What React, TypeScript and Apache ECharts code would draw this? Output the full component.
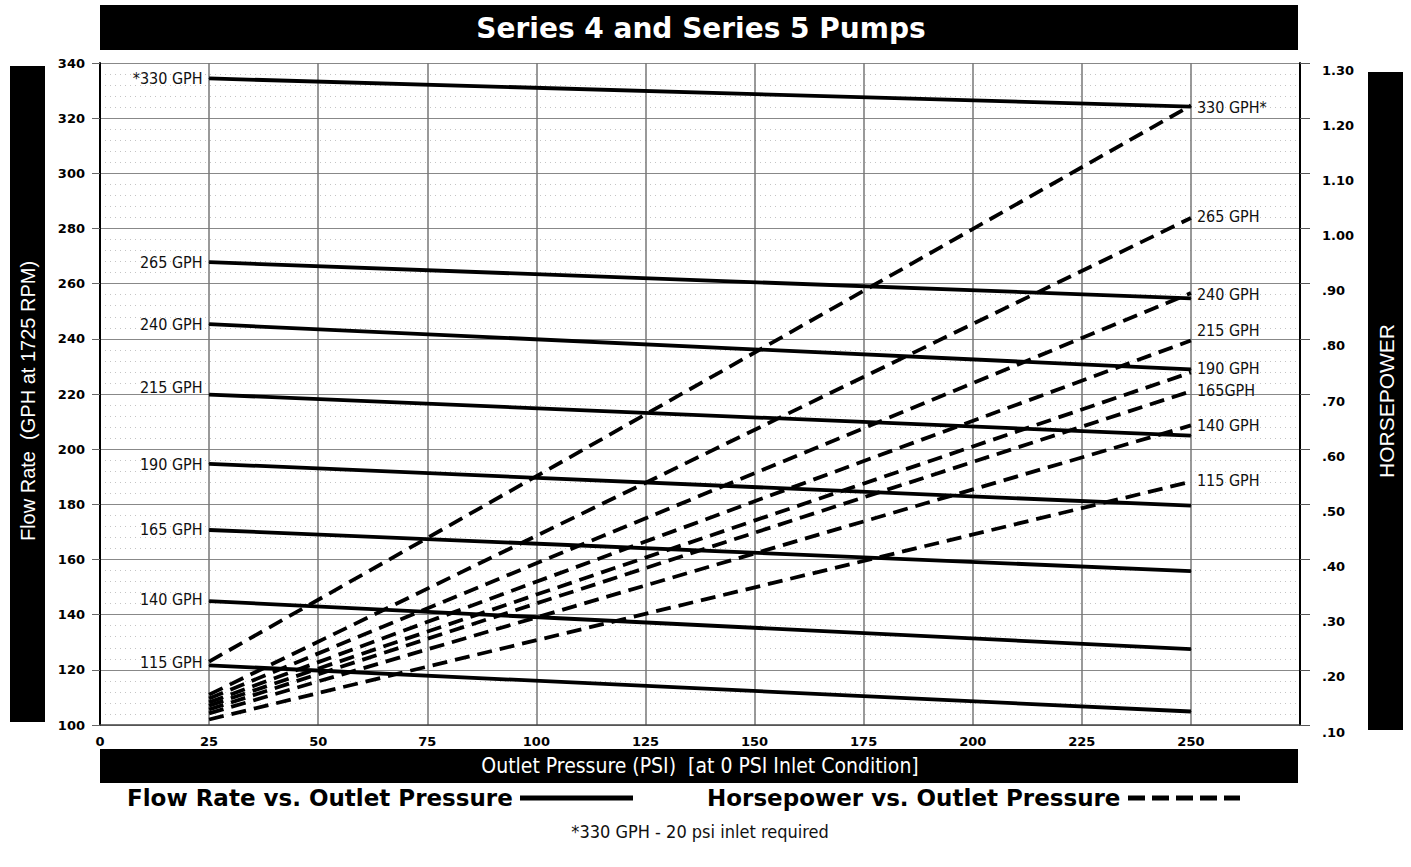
import React, { useEffect, useRef } from "react";
import * as echarts from "echarts";

// Outlet pressure (PSI) at which each curve starts and ends
const pressureStart = 25;
const pressureEnd = 250;

// Flow rate (GPH at 1725 RPM) vs outlet pressure – solid lines
const flowNames = ["*330 GPH", "265 GPH", "240 GPH", "215 GPH", "190 GPH", "165 GPH", "140 GPH", "115 GPH"];
const flowAt25 = [334.4, 267.8, 245.3, 219.8, 194.7, 170.7, 144.9, 121.6];
const flowAt250 = [324.2, 254.7, 228.9, 204.9, 179.5, 155.8, 127.5, 104.9];
const flowLabelShift = [0, 0, 0, -7, 1, 0, -2, -3];

// Horsepower vs outlet pressure – dashed lines
const hpNames = ["330 GPH*", "265 GPH", "240 GPH", "215 GPH", "190 GPH", "165GPH", "140 GPH", "115 GPH"];
const hpAt25 = [0.215, 0.155, 0.148, 0.141, 0.135, 0.128, 0.121, 0.11];
const hpAt250 = [1.223, 1.019, 0.883, 0.797, 0.739, 0.705, 0.643, 0.541];
const hpLabelShift = [2, -2, 1, -10, -4, -1, 0, -1];

// Axis ticks
const pressureTicks = { min: 0, max: 275, interval: 25 };
const flowTicks = { min: 100, max: 340, interval: 20 };
const hpTicks = { min: 0.1, max: 1.3, interval: 0.1 };

const NARROW = "'Liberation Sans Narrow', 'DejaVu Sans Condensed', 'Liberation Sans', sans-serif";
const BOLD = "'DejaVu Sans', 'Verdana', sans-serif";
const SANS = "'Liberation Sans', Arial, sans-serif";

export default function App() {
  const ref = useRef<HTMLDivElement>(null);
  useEffect(() => {
    if (!ref.current) return;
    const chart = echarts.init(ref.current, null, { renderer: "svg" });

    const flowSeries = flowNames.map((name, i) => ({
      name: "flow " + name,
      type: "line",
      xAxisIndex: 0,
      yAxisIndex: 0,
      showSymbol: true,
      symbol: "circle",
      symbolSize: 1,
      itemStyle: { color: "#000" },
      lineStyle: { color: "#000", width: 3.8 },
      silent: true,
      z: 5,
      data: [
        {
          value: [pressureStart, flowAt25[i]],
          label: {
            show: true,
            position: "left",
            distance: 6,
            formatter: name,
            offset: [0, flowLabelShift[i]],
            color: "#111",
            fontFamily: NARROW,
            fontSize: 16,
          },
        },
        { value: [pressureEnd, flowAt250[i]] },
      ],
    }));

    const hpSeries = hpNames.map((name, i) => ({
      name: "hp " + name,
      type: "line",
      xAxisIndex: 0,
      yAxisIndex: 1,
      symbol: "none",
      lineStyle: { color: "#000", width: 3.8, type: [15, 8] },
      silent: true,
      z: 5,
      endLabel: {
        show: true,
        formatter: name,
        distance: 6,
        offset: [0, hpLabelShift[i]],
        color: "#111",
        fontFamily: NARROW,
        fontSize: 16,
      },
      data: [
        [pressureStart, hpAt25[i]],
        [pressureEnd, hpAt250[i]],
      ],
    }));

    const option = {
      animation: false,
      backgroundColor: "#fff",
      grid: { left: 100, right: 111, top: 63, bottom: 142, containLabel: false },
      xAxis: {
        type: "value",
        min: pressureTicks.min,
        max: pressureTicks.max,
        interval: pressureTicks.interval,
        axisLine: { show: true, lineStyle: { color: "#444", width: 1.5 } },
        axisTick: { show: false },
        axisLabel: {
          showMaxLabel: false,
          margin: 10,
          color: "#000",
          fontFamily: BOLD,
          fontWeight: "bold",
          fontSize: 13,
        },
        splitLine: { show: true, lineStyle: { color: "#777", width: 1.5 } },
      },
      yAxis: [
        {
          type: "value",
          position: "left",
          min: flowTicks.min,
          max: flowTicks.max,
          interval: flowTicks.interval,
          axisLine: { show: true, lineStyle: { color: "#000", width: 2 } },
          axisTick: { show: true, inside: false, length: 8, lineStyle: { color: "#666" } },
          axisLabel: {
            margin: 15,
            color: "#000",
            fontFamily: BOLD,
            fontWeight: "bold",
            fontSize: 13,
          },
          splitLine: { show: true, lineStyle: { color: "#888", width: 1 } },
          minorTick: { show: false, splitNumber: 5 },
          minorSplitLine: { show: true, lineStyle: { color: "#c4c4c4", type: [1, 4], width: 1 } },
        },
        {
          type: "value",
          position: "right",
          min: hpTicks.min,
          max: hpTicks.max,
          interval: hpTicks.interval,
          axisLine: { show: true, lineStyle: { color: "#000", width: 2 } },
          axisTick: { show: true, inside: false, length: 10, lineStyle: { color: "#555" } },
          axisLabel: {
            margin: 22,
            verticalAlign: "top",
            lineHeight: 14,
            color: "#000",
            fontFamily: BOLD,
            fontWeight: "bold",
            fontSize: 13,
            formatter: (v: number) => {
              const s = v.toFixed(2);
              return v >= 1 ? s : s.slice(1);
            },
          },
          splitLine: { show: false },
        },
      ],
      graphic: [
        // title bar
        { type: "rect", left: 100, top: 5, shape: { width: 1198, height: 45 }, style: { fill: "#000" } },
        {
          type: "text",
          x: 701,
          y: 28,
          style: {
            text: "Series 4 and Series 5 Pumps",
            fill: "#fff",
            font: "bold 28px " + BOLD,
            align: "center",
            verticalAlign: "middle",
          },
        },
        // left axis title bar
        { type: "rect", left: 10, top: 66, shape: { width: 35, height: 656 }, style: { fill: "#000" } },
        {
          type: "text",
          x: 28,
          y: 401,
          rotation: Math.PI / 2,
          style: {
            text: "Flow Rate  (GPH at 1725 RPM)",
            fill: "#fff",
            font: "20px " + SANS,
            align: "center",
            verticalAlign: "middle",
          },
        },
        // right axis title bar
        { type: "rect", left: 1368, top: 72, shape: { width: 35, height: 658 }, style: { fill: "#000" } },
        {
          type: "text",
          x: 1386,
          y: 401,
          rotation: Math.PI / 2,
          style: {
            text: "HORSEPOWER",
            fill: "#fff",
            font: "21px " + SANS,
            align: "center",
            verticalAlign: "middle",
          },
        },
        // x axis title bar
        { type: "rect", left: 100, top: 749, shape: { width: 1198, height: 34 }, style: { fill: "#000" } },
        {
          type: "text",
          x: 700,
          y: 766,
          style: {
            text: "Outlet Pressure (PSI)  [at 0 PSI Inlet Condition]",
            fill: "#fff",
            font: "21px " + NARROW,
            align: "center",
            verticalAlign: "middle",
          },
        },
        // legend
        {
          type: "text",
          x: 127,
          y: 798,
          style: {
            text: "Flow Rate vs. Outlet Pressure",
            fill: "#000",
            font: "bold 23px " + BOLD,
            align: "left",
            verticalAlign: "middle",
          },
        },
        {
          type: "line",
          shape: { x1: 520, y1: 798, x2: 633, y2: 798 },
          style: { stroke: "#000", lineWidth: 5 },
        },
        {
          type: "text",
          x: 707,
          y: 798,
          style: {
            text: "Horsepower vs. Outlet Pressure",
            fill: "#000",
            font: "bold 23px " + BOLD,
            align: "left",
            verticalAlign: "middle",
          },
        },
        {
          type: "line",
          shape: { x1: 1128, y1: 798, x2: 1240, y2: 798 },
          style: { stroke: "#000", lineWidth: 5, lineDash: [17, 7] },
        },
        // footnote
        {
          type: "text",
          x: 700,
          y: 831,
          style: {
            text: "*330 GPH - 20 psi inlet required",
            fill: "#111",
            font: "18px " + NARROW,
            align: "center",
            verticalAlign: "middle",
          },
        },
      ],
      series: [...flowSeries, ...hpSeries],
    };

    chart.setOption(option as any);
    return () => chart.dispose();
  }, []);

  return <div ref={ref} style={{ position: "fixed", left: 0, top: 0, width: 1411, height: 867 }} />;
}
